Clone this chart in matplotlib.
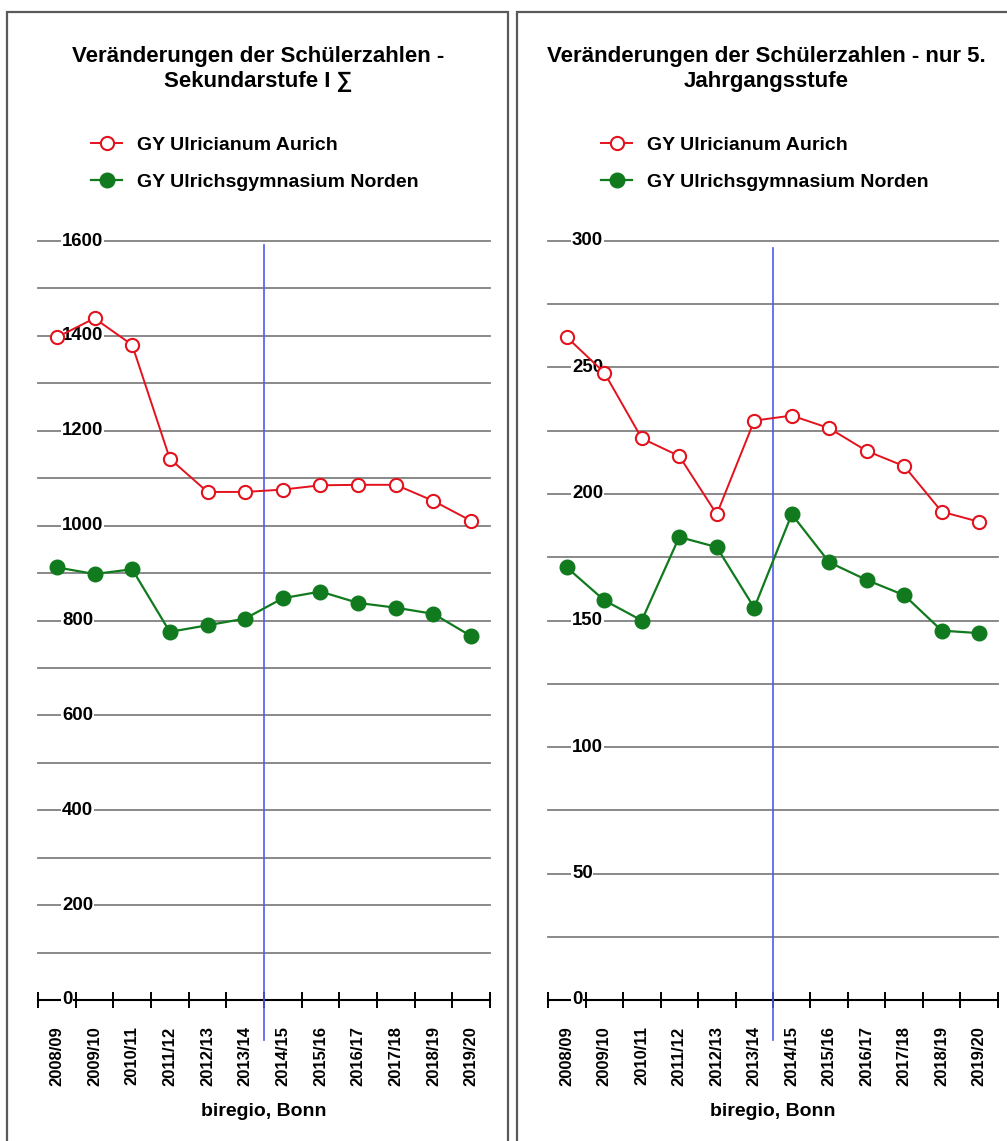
"""
Zwei Liniendiagramme: Veraenderungen der Schuelerzahlen (Sek. I und 5. Jahrgang).
"""

import matplotlib
matplotlib.use("Agg")
import matplotlib.pyplot as plt
import matplotlib.patches as mpatches
from matplotlib.transforms import ScaledTranslation

plt.rcParams["font.family"] = ["Liberation Sans", "DejaVu Sans"]
plt.rcParams["font.weight"] = "bold"

# --- Daten ---
YEARS = ["2008/09", "2009/10", "2010/11", "2011/12", "2012/13", "2013/14",
         "2014/15", "2015/16", "2016/17", "2017/18", "2018/19", "2019/20"]
SERIES_NAMES = ["GY Ulricianum Aurich", "GY Ulrichsgymnasium Norden"]

SEK1_AURICH = [1397, 1437, 1381, 1141, 1071, 1071, 1076, 1085, 1086, 1086, 1052, 1010]
SEK1_NORDEN = [912, 898, 908, 776, 790, 804, 847, 861, 837, 827, 814, 767]

JG5_AURICH = [262, 248, 222, 215, 192, 229, 231, 226, 217, 211, 193, 189]
JG5_NORDEN = [171, 158, 150, 183, 179, 155, 192, 173, 166, 160, 146, 145]

TITLES = ["Veränderungen der Schülerzahlen -\nSekundarstufe I \u2211",
          "Veränderungen der Schülerzahlen - nur 5.\nJahrgangsstufe"]
SOURCE = "biregio, Bonn"

SEK1_GRID = list(range(100, 1700, 100))
SEK1_LABELS = list(range(0, 1700, 200))
JG5_GRID = list(range(25, 325, 25))
JG5_LABELS = list(range(0, 350, 50))

# --- Layout (Pixel) ---
W, H = 1007, 1141
RED = "#e3121d"
GREEN = "#117a1e"
BLUE = "#4b5cf2"

fig = plt.figure(figsize=(W / 100, H / 100), dpi=100)


def fx(x):
    return x / W


def fy(y):
    return 1 - y / H


def panel(frame, px_left, px_right, title_cx, title, aurich, norden, ymax, grid, labels,
          blue_top):
    # Rahmen (unten/rechts abgeschnitten)
    fl, fr = frame
    fig.add_artist(mpatches.Rectangle(
        (fx(fl), fy(H + 20)), fx(fr - fl), fy(12) - fy(H + 20),
        transform=fig.transFigure, fill=False, ec="#5a5a5a", lw=1.6, clip_on=False))

    ax = fig.add_axes([fx(px_left), fy(1000), fx(px_right - px_left), fy(241) - fy(1000)])
    x = list(range(len(YEARS)))

    ax.plot(x, aurich, color=RED, lw=1.4, marker="o", ms=9.5, mfc="white",
            mec=RED, mew=1.5, label=SERIES_NAMES[0], zorder=5, clip_on=False)
    ax.plot(x, norden, color=GREEN, lw=1.6, marker="o", ms=10.5, mfc=GREEN,
            mec=GREEN, label=SERIES_NAMES[1], zorder=5, clip_on=False)

    ax.set_xlim(-0.5, len(YEARS) - 0.5)
    ax.set_ylim(0, ymax)

    # Gitterlinien
    ax.set_yticks(grid)
    ax.grid(axis="y", color="#808080", lw=1.3)
    for gl in ax.get_ygridlines():
        gl.set_clip_on(False)
    ax.set_axisbelow(True)
    ax.tick_params(axis="y", length=0, labelleft=False)

    # y-Beschriftung innerhalb der Achse
    off = ax.get_yaxis_transform() + ScaledTranslation(0.24, 0, fig.dpi_scale_trans)
    for v in labels:
        ax.text(0, v, str(v), transform=off, ha="left", va="center",
                fontsize=13.4, fontweight="bold", zorder=3,
                bbox=dict(fc="white", ec="none", pad=0.5))

    # x-Achse
    ax.set_xticks([i - 0.5 for i in range(len(YEARS) + 1)])
    ax.set_xticklabels([])
    ax.set_xticks(x, minor=True)
    ax.set_xticklabels(YEARS, minor=True, rotation=90, fontsize=12, fontweight="bold")
    ax.tick_params(axis="x", which="major", direction="inout", length=11.5, width=1.4,
                   color="black")
    ax.tick_params(axis="x", which="minor", length=0, pad=19)
    ax.set_xlabel(SOURCE, fontsize=14, fontweight="bold", labelpad=12)

    for s in ("top", "left", "right"):
        ax.spines[s].set_visible(False)
    ax.spines["bottom"].set_linewidth(1.5)
    ax.spines["bottom"].set_zorder(2)

    # Trennlinie 2013/14 | 2014/15
    span = 1000 - 241
    ax.axvline(5.5, ymin=-40 / span, ymax=(1000 - blue_top) / span, color=BLUE,
               lw=1.2, clip_on=False, zorder=4)

    fig.text(fx(title_cx), fy(69), title, ha="center", va="center",
             fontsize=16, fontweight="bold", linespacing=1.2)

    ax.legend(loc="upper left", bbox_to_anchor=(fx(fl + 84), fy(136)),
              bbox_transform=fig.transFigure, frameon=False, fontsize=14,
              handlelength=1.6, handletextpad=0.75, labelspacing=1.0,
              borderpad=0, borderaxespad=0)
    return ax


panel((7, 508), 38, 490, 258, TITLES[0], SEK1_AURICH, SEK1_NORDEN, 1600,
      SEK1_GRID, SEK1_LABELS, 245)
panel((517, 1030), 548, 998, 766, TITLES[1], JG5_AURICH, JG5_NORDEN, 300,
      JG5_GRID, JG5_LABELS, 248)

fig.savefig("out.png", dpi=100)
